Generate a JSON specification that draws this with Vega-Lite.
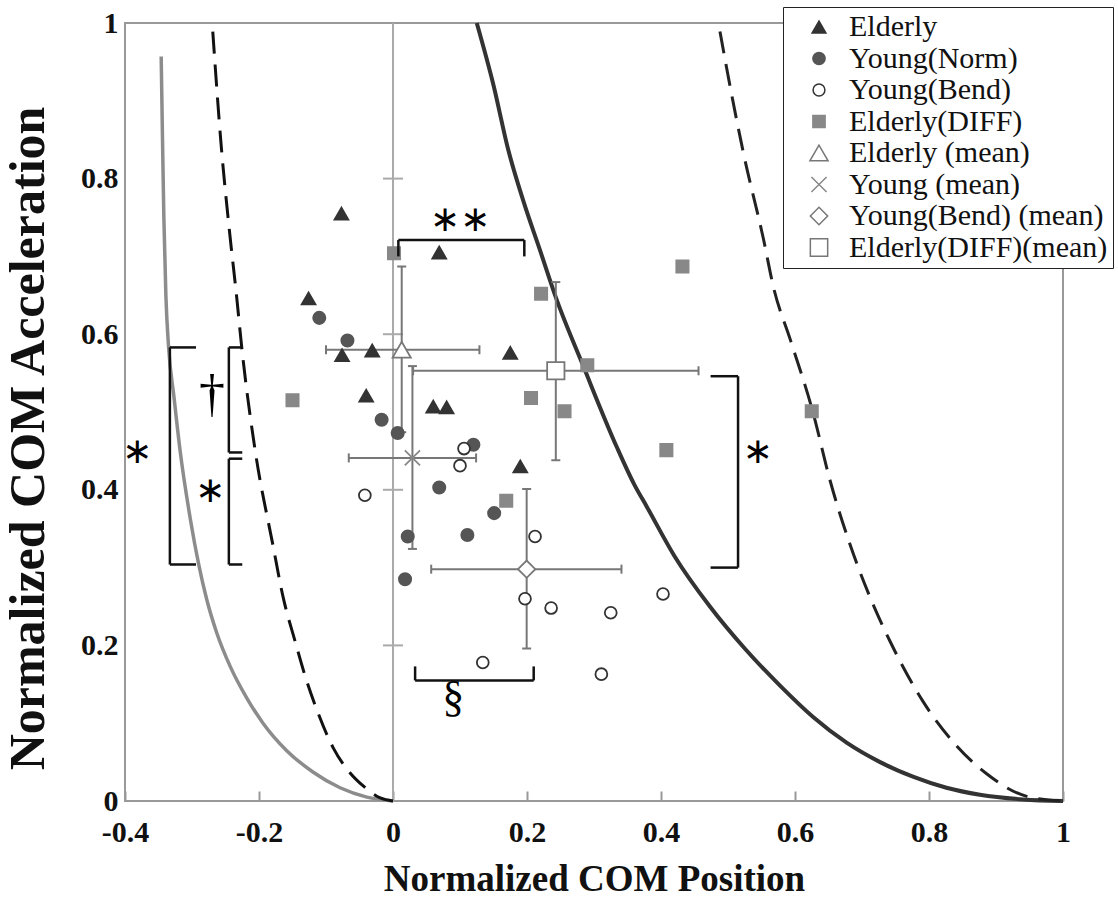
{
  "$schema": "https://vega.github.io/schema/vega-lite/v6.json",
  "width": 938,
  "height": 778,
  "autosize": "none",
  "padding": {"left": 125, "top": 23, "right": 55, "bottom": 107},
  "background": "white",
  "config": {
    "view": {"stroke": "#999999", "strokeWidth": 2},
    "axis": {"grid": false, "domain": false, "labelFlush": false, "labelOverlap": false,
      "labelFont": "Liberation Serif", "labelFontWeight": "bold", "labelColor": "#111111",
      "titleFont": "Liberation Serif", "titleFontWeight": "bold", "titleColor": "#111111"},
    "legend": {"orient": "none", "legendX": 658, "legendY": -16, "padding": 5,
      "strokeColor": "#222222", "fillColor": "white", "labelFont": "Liberation Serif",
      "labelFontSize": 30, "labelColor": "#111111", "rowPadding": 1.5, "symbolOffset": 16, "labelOffset": 15,
      "labelLimit": 400}
  },
  "datasets": {
    "curves": [
      {"curve": "grey", "x": -0.346, "y": 0.957}, {"curve": "grey", "x": -0.344, "y": 0.85}, {"curve": "grey", "x": -0.342, "y": 0.75},
      {"curve": "grey", "x": -0.339, "y": 0.65}, {"curve": "grey", "x": -0.335, "y": 0.584}, {"curve": "grey", "x": -0.327, "y": 0.52},
      {"curve": "grey", "x": -0.318, "y": 0.452}, {"curve": "grey", "x": -0.302, "y": 0.36}, {"curve": "grey", "x": -0.278, "y": 0.259},
      {"curve": "grey", "x": -0.263, "y": 0.216}, {"curve": "grey", "x": -0.243, "y": 0.173}, {"curve": "grey", "x": -0.218, "y": 0.132},
      {"curve": "grey", "x": -0.194, "y": 0.1}, {"curve": "grey", "x": -0.159, "y": 0.065}, {"curve": "grey", "x": -0.119, "y": 0.037},
      {"curve": "grey", "x": -0.079, "y": 0.017}, {"curve": "grey", "x": -0.039, "y": 0.005}, {"curve": "grey", "x": 0, "y": 0},
      {"curve": "dashL", "x": -0.269, "y": 0.989}, {"curve": "dashL", "x": -0.256, "y": 0.838}, {"curve": "dashL", "x": -0.245, "y": 0.74},
      {"curve": "dashL", "x": -0.233, "y": 0.645}, {"curve": "dashL", "x": -0.226, "y": 0.585}, {"curve": "dashL", "x": -0.206, "y": 0.452},
      {"curve": "dashL", "x": -0.179, "y": 0.328}, {"curve": "dashL", "x": -0.164, "y": 0.262}, {"curve": "dashL", "x": -0.146, "y": 0.205},
      {"curve": "dashL", "x": -0.132, "y": 0.163}, {"curve": "dashL", "x": -0.114, "y": 0.118}, {"curve": "dashL", "x": -0.089, "y": 0.068},
      {"curve": "dashL", "x": -0.064, "y": 0.036}, {"curve": "dashL", "x": -0.044, "y": 0.019}, {"curve": "dashL", "x": -0.019, "y": 0.004},
      {"curve": "dashL", "x": 0, "y": 0},
      {"curve": "dark", "x": 0.125, "y": 1.0}, {"curve": "dark", "x": 0.15, "y": 0.92}, {"curve": "dark", "x": 0.172, "y": 0.837},
      {"curve": "dark", "x": 0.195, "y": 0.77}, {"curve": "dark", "x": 0.219, "y": 0.709}, {"curve": "dark", "x": 0.244, "y": 0.645},
      {"curve": "dark", "x": 0.284, "y": 0.559}, {"curve": "dark", "x": 0.334, "y": 0.455}, {"curve": "dark", "x": 0.36, "y": 0.407},
      {"curve": "dark", "x": 0.379, "y": 0.378}, {"curve": "dark", "x": 0.42, "y": 0.315}, {"curve": "dark", "x": 0.473, "y": 0.25},
      {"curve": "dark", "x": 0.525, "y": 0.196}, {"curve": "dark", "x": 0.578, "y": 0.148}, {"curve": "dark", "x": 0.627, "y": 0.108},
      {"curve": "dark", "x": 0.677, "y": 0.075}, {"curve": "dark", "x": 0.727, "y": 0.05}, {"curve": "dark", "x": 0.777, "y": 0.031},
      {"curve": "dark", "x": 0.826, "y": 0.017}, {"curve": "dark", "x": 0.876, "y": 0.008}, {"curve": "dark", "x": 0.94, "y": 0.002},
      {"curve": "dark", "x": 1.0, "y": 0},
      {"curve": "dashR", "x": 0.488, "y": 0.989}, {"curve": "dashR", "x": 0.505, "y": 0.91}, {"curve": "dashR", "x": 0.523, "y": 0.833},
      {"curve": "dashR", "x": 0.553, "y": 0.722}, {"curve": "dashR", "x": 0.568, "y": 0.66}, {"curve": "dashR", "x": 0.593, "y": 0.593},
      {"curve": "dashR", "x": 0.627, "y": 0.499}, {"curve": "dashR", "x": 0.652, "y": 0.413}, {"curve": "dashR", "x": 0.68, "y": 0.335},
      {"curve": "dashR", "x": 0.712, "y": 0.262}, {"curve": "dashR", "x": 0.742, "y": 0.205}, {"curve": "dashR", "x": 0.791, "y": 0.128},
      {"curve": "dashR", "x": 0.836, "y": 0.076}, {"curve": "dashR", "x": 0.886, "y": 0.035}, {"curve": "dashR", "x": 0.946, "y": 0.006},
      {"curve": "dashR", "x": 1.0, "y": 0}
    ],
    "points": [
      {"series": "Elderly", "x": -0.077, "y": 0.755}, {"series": "Elderly", "x": 0.069, "y": 0.705}, {"series": "Elderly", "x": -0.126, "y": 0.646},
      {"series": "Elderly", "x": -0.076, "y": 0.573}, {"series": "Elderly", "x": -0.031, "y": 0.579}, {"series": "Elderly", "x": -0.04, "y": 0.521},
      {"series": "Elderly", "x": 0.06, "y": 0.507}, {"series": "Elderly", "x": 0.08, "y": 0.506}, {"series": "Elderly", "x": 0.175, "y": 0.576},
      {"series": "Elderly", "x": 0.19, "y": 0.43},
      {"series": "Young(Norm)", "x": -0.11, "y": 0.621}, {"series": "Young(Norm)", "x": -0.068, "y": 0.592}, {"series": "Young(Norm)", "x": -0.017, "y": 0.49},
      {"series": "Young(Norm)", "x": 0.007, "y": 0.473}, {"series": "Young(Norm)", "x": 0.12, "y": 0.458}, {"series": "Young(Norm)", "x": 0.069, "y": 0.403},
      {"series": "Young(Norm)", "x": 0.151, "y": 0.37}, {"series": "Young(Norm)", "x": 0.111, "y": 0.342}, {"series": "Young(Norm)", "x": 0.022, "y": 0.34},
      {"series": "Young(Norm)", "x": 0.018, "y": 0.285},
      {"series": "Young(Bend)", "x": 0.106, "y": 0.453}, {"series": "Young(Bend)", "x": 0.1, "y": 0.431}, {"series": "Young(Bend)", "x": -0.042, "y": 0.393},
      {"series": "Young(Bend)", "x": 0.212, "y": 0.34}, {"series": "Young(Bend)", "x": 0.197, "y": 0.26}, {"series": "Young(Bend)", "x": 0.236, "y": 0.248},
      {"series": "Young(Bend)", "x": 0.134, "y": 0.178}, {"series": "Young(Bend)", "x": 0.403, "y": 0.266}, {"series": "Young(Bend)", "x": 0.325, "y": 0.242},
      {"series": "Young(Bend)", "x": 0.311, "y": 0.163},
      {"series": "Elderly(DIFF)", "x": 0.0015, "y": 0.704}, {"series": "Elderly(DIFF)", "x": 0.221, "y": 0.652}, {"series": "Elderly(DIFF)", "x": 0.29, "y": 0.56},
      {"series": "Elderly(DIFF)", "x": 0.206, "y": 0.518}, {"series": "Elderly(DIFF)", "x": 0.256, "y": 0.501}, {"series": "Elderly(DIFF)", "x": 0.432, "y": 0.687},
      {"series": "Elderly(DIFF)", "x": 0.408, "y": 0.451}, {"series": "Elderly(DIFF)", "x": 0.625, "y": 0.501}, {"series": "Elderly(DIFF)", "x": -0.15, "y": 0.515},
      {"series": "Elderly(DIFF)", "x": 0.169, "y": 0.386},
      {"series": "Elderly (mean)", "x": 0.013, "y": 0.58},
      {"series": "Young (mean)", "x": 0.029, "y": 0.441},
      {"series": "Young(Bend) (mean)", "x": 0.1995, "y": 0.298},
      {"series": "Elderly(DIFF)(mean)", "x": 0.243, "y": 0.553}
    ],
    "means": [
      {"group": "Elderly", "x": 0.013, "y": 0.58, "xlo": -0.1, "xhi": 0.129, "ylo": 0.474, "yhi": 0.687},
      {"group": "Young", "x": 0.029, "y": 0.441, "xlo": -0.066, "xhi": 0.124, "ylo": 0.324, "yhi": 0.559},
      {"group": "Young(Bend)", "x": 0.1995, "y": 0.298, "xlo": 0.057, "xhi": 0.341, "ylo": 0.196, "yhi": 0.401},
      {"group": "Elderly(DIFF)", "x": 0.243, "y": 0.553, "xlo": 0.03, "xhi": 0.456, "ylo": 0.438, "yhi": 0.667}
    ],
    "brackets": [
      {"x": 0.008, "y": 0.7, "x2": 0.008, "y2": 0.721}, {"x": 0.008, "y": 0.721, "x2": 0.196, "y2": 0.721}, {"x": 0.196, "y": 0.721, "x2": 0.196, "y2": 0.7},
      {"x": 0.033, "y": 0.173, "x2": 0.033, "y2": 0.155}, {"x": 0.033, "y": 0.155, "x2": 0.21, "y2": 0.155}, {"x": 0.21, "y": 0.155, "x2": 0.21, "y2": 0.173},
      {"x": 0.474, "y": 0.546, "x2": 0.515, "y2": 0.546}, {"x": 0.515, "y": 0.546, "x2": 0.515, "y2": 0.3}, {"x": 0.515, "y": 0.3, "x2": 0.474, "y2": 0.3},
      {"x": -0.294, "y": 0.583, "x2": -0.333, "y2": 0.583}, {"x": -0.333, "y": 0.583, "x2": -0.333, "y2": 0.304}, {"x": -0.333, "y": 0.304, "x2": -0.294, "y2": 0.304},
      {"x": -0.227, "y": 0.583, "x2": -0.245, "y2": 0.583}, {"x": -0.245, "y": 0.583, "x2": -0.245, "y2": 0.448}, {"x": -0.245, "y": 0.448, "x2": -0.225, "y2": 0.448},
      {"x": -0.225, "y": 0.44, "x2": -0.245, "y2": 0.44}, {"x": -0.245, "y": 0.44, "x2": -0.245, "y2": 0.304}, {"x": -0.245, "y": 0.304, "x2": -0.225, "y2": 0.304}
    ],
    "marks": [
      {"sym": "ast", "text": "∗∗", "x": 0.1, "y": 0.747},
      {"sym": "ast", "text": "∗", "x": 0.544, "y": 0.448},
      {"sym": "ast", "text": "∗", "x": -0.382, "y": 0.449},
      {"sym": "ast", "text": "∗", "x": -0.273, "y": 0.398},
      {"sym": "dagger", "text": "†", "x": -0.27, "y": 0.522},
      {"sym": "section", "text": "§", "x": 0.09, "y": 0.133}
    ],
    "axisline": [{"x": 0, "y": 0, "y2": 1}],
    "axisticks": [
      {"x": -0.015, "x2": 0.015, "y": 0.2}, {"x": -0.015, "x2": 0.015, "y": 0.4},
      {"x": -0.015, "x2": 0.015, "y": 0.6}, {"x": -0.015, "x2": 0.015, "y": 0.8}
    ]
  },
  "encoding": {
    "x": {"field": "x", "type": "quantitative",
      "scale": {"domain": [-0.4, 1], "nice": false, "zero": false},
      "axis": {"values": [-0.4, -0.2, 0, 0.2, 0.4, 0.6, 0.8, 1], "labelExpr": "replace(format(datum.value, '~g'), '\u2212', '-')",
        "title": "Normalized COM Position", "labelFontSize": 30, "titleFontSize": 37,
        "tickSize": -10, "tickColor": "#999999", "tickWidth": 2, "labelPadding": 26, "titlePadding": 14}},
    "y": {"field": "y", "type": "quantitative",
      "scale": {"domain": [0, 1], "nice": false, "zero": false},
      "axis": {"values": [0, 0.2, 0.4, 0.6, 0.8, 1], "labelExpr": "format(datum.value, '~g')", "title": "Normalized COM Acceleration",
        "labelFontSize": 30, "titleFontSize": 50, "ticks": false, "labelPadding": 7,
        "titleX": -72, "titleY": 415}}
  },
  "layer": [
    {"data": {"name": "axisline"}, "mark": {"type": "rule", "color": "#aaaaaa", "strokeWidth": 2},
      "encoding": {"y2": {"field": "y2"}}},
    {"data": {"name": "axisticks"}, "mark": {"type": "rule", "color": "#aaaaaa", "strokeWidth": 2},
      "encoding": {"x2": {"field": "x2"}}},
    {"data": {"name": "curves"}, "transform": [{"filter": "datum.curve === 'grey'"}],
      "mark": {"type": "line", "color": "#8c8c8c", "strokeWidth": 3.5, "interpolate": "monotone"}, "encoding": {"order": {"field": "x", "type": "quantitative"}}},
    {"data": {"name": "curves"}, "transform": [{"filter": "datum.curve === 'dashL'"}],
      "mark": {"type": "line", "color": "#111111", "strokeWidth": 3, "strokeDash": [22, 11], "interpolate": "monotone"}, "encoding": {"order": {"field": "x", "type": "quantitative"}}},
    {"data": {"name": "curves"}, "transform": [{"filter": "datum.curve === 'dark'"}],
      "mark": {"type": "line", "color": "#333333", "strokeWidth": 4, "interpolate": "monotone"}, "encoding": {"order": {"field": "x", "type": "quantitative"}}},
    {"data": {"name": "curves"}, "transform": [{"filter": "datum.curve === 'dashR'"}],
      "mark": {"type": "line", "color": "#222222", "strokeWidth": 3, "strokeDash": [22, 11], "interpolate": "monotone"}, "encoding": {"order": {"field": "x", "type": "quantitative"}}},
    {"data": {"name": "means"}, "mark": {"type": "rule", "color": "#777777", "strokeWidth": 2},
      "encoding": {"x": {"field": "xlo", "type": "quantitative"}, "x2": {"field": "xhi"}}},
    {"data": {"name": "means"}, "mark": {"type": "rule", "color": "#777777", "strokeWidth": 2},
      "encoding": {"y": {"field": "ylo", "type": "quantitative"}, "y2": {"field": "yhi"}}},
    {"data": {"name": "means"}, "mark": {"type": "tick", "orient": "vertical", "color": "#777777", "size": 9, "thickness": 2, "opacity": 1},
      "encoding": {"x": {"field": "xlo", "type": "quantitative"}}},
    {"data": {"name": "means"}, "mark": {"type": "tick", "orient": "vertical", "color": "#777777", "size": 9, "thickness": 2, "opacity": 1},
      "encoding": {"x": {"field": "xhi", "type": "quantitative"}}},
    {"data": {"name": "means"}, "mark": {"type": "tick", "orient": "horizontal", "color": "#777777", "size": 9, "thickness": 2, "opacity": 1},
      "encoding": {"y": {"field": "ylo", "type": "quantitative"}}},
    {"data": {"name": "means"}, "mark": {"type": "tick", "orient": "horizontal", "color": "#777777", "size": 9, "thickness": 2, "opacity": 1},
      "encoding": {"y": {"field": "yhi", "type": "quantitative"}}},
    {"data": {"name": "points"}, "mark": {"type": "point", "filled": false, "strokeWidth": 1.8, "opacity": 1},
      "encoding": {
        "shape": {"field": "series", "type": "nominal", "title": null,
          "scale": {"domain": ["Elderly", "Young(Norm)", "Young(Bend)", "Elderly(DIFF)", "Elderly (mean)", "Young (mean)", "Young(Bend) (mean)", "Elderly(DIFF)(mean)"],
            "range": ["triangle-up", "circle", "circle", "square", "triangle-up", "M-1,-1L1,1M-1,1L1,-1", "diamond", "square"]}},
        "fill": {"field": "series", "type": "nominal", "title": null,
          "scale": {"domain": ["Elderly", "Young(Norm)", "Young(Bend)", "Elderly(DIFF)", "Elderly (mean)", "Young (mean)", "Young(Bend) (mean)", "Elderly(DIFF)(mean)"],
            "range": ["#333333", "#555555", "#ffffff", "#888888", "#ffffff", "transparent", "#ffffff", "#ffffff"]}},
        "stroke": {"field": "series", "type": "nominal", "title": null,
          "scale": {"domain": ["Elderly", "Young(Norm)", "Young(Bend)", "Elderly(DIFF)", "Elderly (mean)", "Young (mean)", "Young(Bend) (mean)", "Elderly(DIFF)(mean)"],
            "range": ["#333333", "#555555", "#333333", "#888888", "#777777", "#888888", "#777777", "#777777"]}},
        "size": {"field": "series", "type": "nominal", "title": null,
          "scale": {"type": "ordinal", "domain": ["Elderly", "Young(Norm)", "Young(Bend)", "Elderly(DIFF)", "Elderly (mean)", "Young (mean)", "Young(Bend) (mean)", "Elderly(DIFF)(mean)"],
            "range": [190, 150, 140, 150, 330, 230, 300, 300]}}
      }},
    {"data": {"name": "brackets"}, "mark": {"type": "rule", "color": "#111111", "strokeWidth": 2.5},
      "encoding": {"x2": {"field": "x2"}, "y2": {"field": "y2"}}},
    {"data": {"name": "marks"}, "transform": [{"filter": "datum.sym === 'ast'"}],
      "mark": {"type": "text", "font": "DejaVu Sans", "fontSize": 36, "color": "#000000", "baseline": "middle", "align": "center"},
      "encoding": {"text": {"field": "text"}}},
    {"data": {"name": "marks"}, "transform": [{"filter": "datum.sym === 'dagger'"}],
      "mark": {"type": "text", "font": "Liberation Serif", "fontSize": 52, "color": "#000000", "baseline": "middle", "align": "center"},
      "encoding": {"text": {"field": "text"}}},
    {"data": {"name": "marks"}, "transform": [{"filter": "datum.sym === 'section'"}],
      "mark": {"type": "text", "font": "Liberation Serif", "fontSize": 44, "color": "#000000", "baseline": "middle", "align": "center"},
      "encoding": {"text": {"field": "text"}}}
  ]
}
